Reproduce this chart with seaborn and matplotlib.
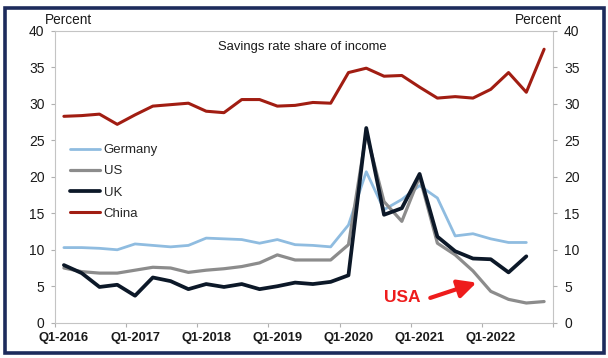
import numpy as np
import pandas as pd
import matplotlib
matplotlib.use("Agg")
import matplotlib.pyplot as plt
import seaborn as sns
from matplotlib.patches import Rectangle

# ------------ Data (quarterly from Q1-2016) --------------------------------------
tick_labels = ["Q1-2016", "Q1-2017", "Q1-2018", "Q1-2019", "Q1-2020", "Q1-2021", "Q1-2022"]
countries = ["Germany", "US", "UK", "China"]

germany = [10.3, 10.3, 10.2, 10.0, 10.8, 10.6, 10.4, 10.6, 11.6, 11.5, 11.4, 10.9, 11.4, 10.7,
           10.6, 10.4, 13.4, 20.7, 15.5, 16.9, 18.8, 17.1, 11.9, 12.2, 11.5, 11.0, 11.0]
us = [7.5, 7.0, 6.8, 6.8, 7.2, 7.6, 7.5, 6.9, 7.2, 7.4, 7.7, 8.2, 9.3, 8.6,
      8.6, 8.6, 10.7, 26.0, 16.6, 13.9, 20.0, 10.9, 9.3, 7.1, 4.3, 3.2, 2.7, 2.9]
uk = [7.9, 6.8, 4.9, 5.2, 3.7, 6.2, 5.7, 4.6, 5.3, 4.9, 5.3, 4.6, 5.0, 5.5,
      5.3, 5.6, 6.5, 26.7, 14.8, 15.7, 20.4, 11.8, 9.8, 8.8, 8.7, 6.9, 9.1]
china = [28.3, 28.4, 28.6, 27.2, 28.5, 29.7, 29.9, 30.1, 29.0, 28.8, 30.6, 30.6, 29.7, 29.8,
         30.2, 30.1, 34.3, 34.9, 33.8, 33.9, 32.3, 30.8, 31.0, 30.8, 32.0, 34.3, 31.6, 37.5]

series = {"Germany": germany, "US": us, "UK": uk, "China": china}
frames = []
for name, vals in series.items():
    # points sit in the middle of each quarter slot
    frames.append(pd.DataFrame({"pos": np.arange(len(vals)) + 0.5, "value": vals, "country": name}))
df = pd.concat(frames, ignore_index=True)

palette = {"Germany": "#8fbce0", "US": "#8c8c8c", "UK": "#0c1828", "China": "#a11d12"}
widths = {"Germany": 2.0, "US": 2.3, "UK": 2.7, "China": 2.2}

# ------------ Figure --------------
sns.set_style("white")
plt.rcParams["font.family"] = ["Liberation Sans", "DejaVu Sans"]

W, H = 608, 358
fig = plt.figure(figsize=(W / 100, H / 100), dpi=100)
fig.patch.set_facecolor("white")

# background: soft grey fade at the bottom + dark frame
bg = fig.add_axes([0, 0, 1, 1], zorder=-5)
bg.set_xlim(0, W)
bg.set_ylim(H, 0)
bg.axis("off")
rows = np.linspace(0, 1, 200)
shade = np.clip((rows - 0.55) / 0.45, 0, 1) ** 1.2
grad = 1 - 0.15 * shade
bg.imshow(np.dstack([grad, grad, grad])[:, :1, :].repeat(2, axis=1),
          extent=(5, 604, 353, 8), aspect="auto", interpolation="bilinear")
bg.add_patch(Rectangle((5, 8), 599, 345, fill=False, edgecolor="#1d2b5c", linewidth=2.6))

left, right, top, bottom = 55, 553, 31, 322.7
ax = fig.add_axes([left / W, 1 - bottom / H, (right - left) / W, (bottom - top) / H])
ax.set_facecolor("none")

sns.lineplot(data=df, x="pos", y="value", hue="country", hue_order=countries, palette=palette,
             size="country", size_order=countries, sizes=widths, ax=ax)

ax.set_xlim(0, 28)
ax.set_ylim(0, 40)
# tick marks on year boundaries, labels centred on the first quarter
ax.set_xticks(np.arange(0, 29, 4))
ax.set_xticklabels([])
ax.set_xticks(np.arange(0, 25, 4) + 0.5, minor=True)
ax.set_xticklabels(tick_labels, minor=True, fontsize=9.3, fontweight="bold", color="#1a1a1a")
ax.tick_params(axis="x", which="major", length=3, width=0.8, color="#b0b0b0", direction="out", bottom=True)
ax.tick_params(axis="x", which="minor", length=0, pad=6.5, bottom=True)
ax.set_yticks(np.arange(0, 41, 5))
ax.tick_params(axis="y", labelsize=10, labelcolor="#1a1a1a", length=3, width=0.8,
               color="#b0b0b0", direction="out", pad=4.5, left=True)
ax.set_xlabel("")
ax.set_ylabel("")
for s in ax.spines.values():
    s.set_color("#c4c4c4")
    s.set_linewidth(0.8)

ax2 = ax.twinx()
ax2.set_ylim(0, 40)
ax2.set_yticks(np.arange(0, 41, 5))
ax2.tick_params(axis="y", labelsize=10, labelcolor="#1a1a1a", length=3, width=0.8,
                color="#b0b0b0", direction="out", pad=5, right=True)
for s in ax2.spines.values():
    s.set_visible(False)

handles, labels = ax.get_legend_handles_labels()
ax.legend(handles, labels, loc="upper left", bbox_to_anchor=(70 / W, 1 - 144 / H),
          bbox_transform=fig.transFigure, frameon=False, fontsize=9.5, borderpad=0,
          borderaxespad=0, handlelength=2.3, handletextpad=0.25, labelspacing=0.68)

ax.text(0.497, 0.965, "Savings rate share of income", transform=ax.transAxes,
        ha="center", va="top", fontsize=9.4, color="#1a1a1a")
fig.text(45 / W, 1 - 20 / H, "Percent", ha="left", va="center", fontsize=9.8, color="#1a1a1a")
fig.text(562 / W, 1 - 20 / H, "Percent", ha="right", va="center", fontsize=9.8, color="#1a1a1a")

ax.annotate("", xy=(23.7, 5.5), xytext=(21.1, 3.4),
            arrowprops=dict(arrowstyle="-|>,head_length=1.1,head_width=0.55",
                            color="#ee1c1c", lw=3.0, shrinkA=0, shrinkB=0))
ax.text(19.5, 3.4, "USA", ha="center", va="center", fontsize=12.5, fontweight="bold", color="#ee1c1c")

fig.savefig("out.png", dpi=100)
